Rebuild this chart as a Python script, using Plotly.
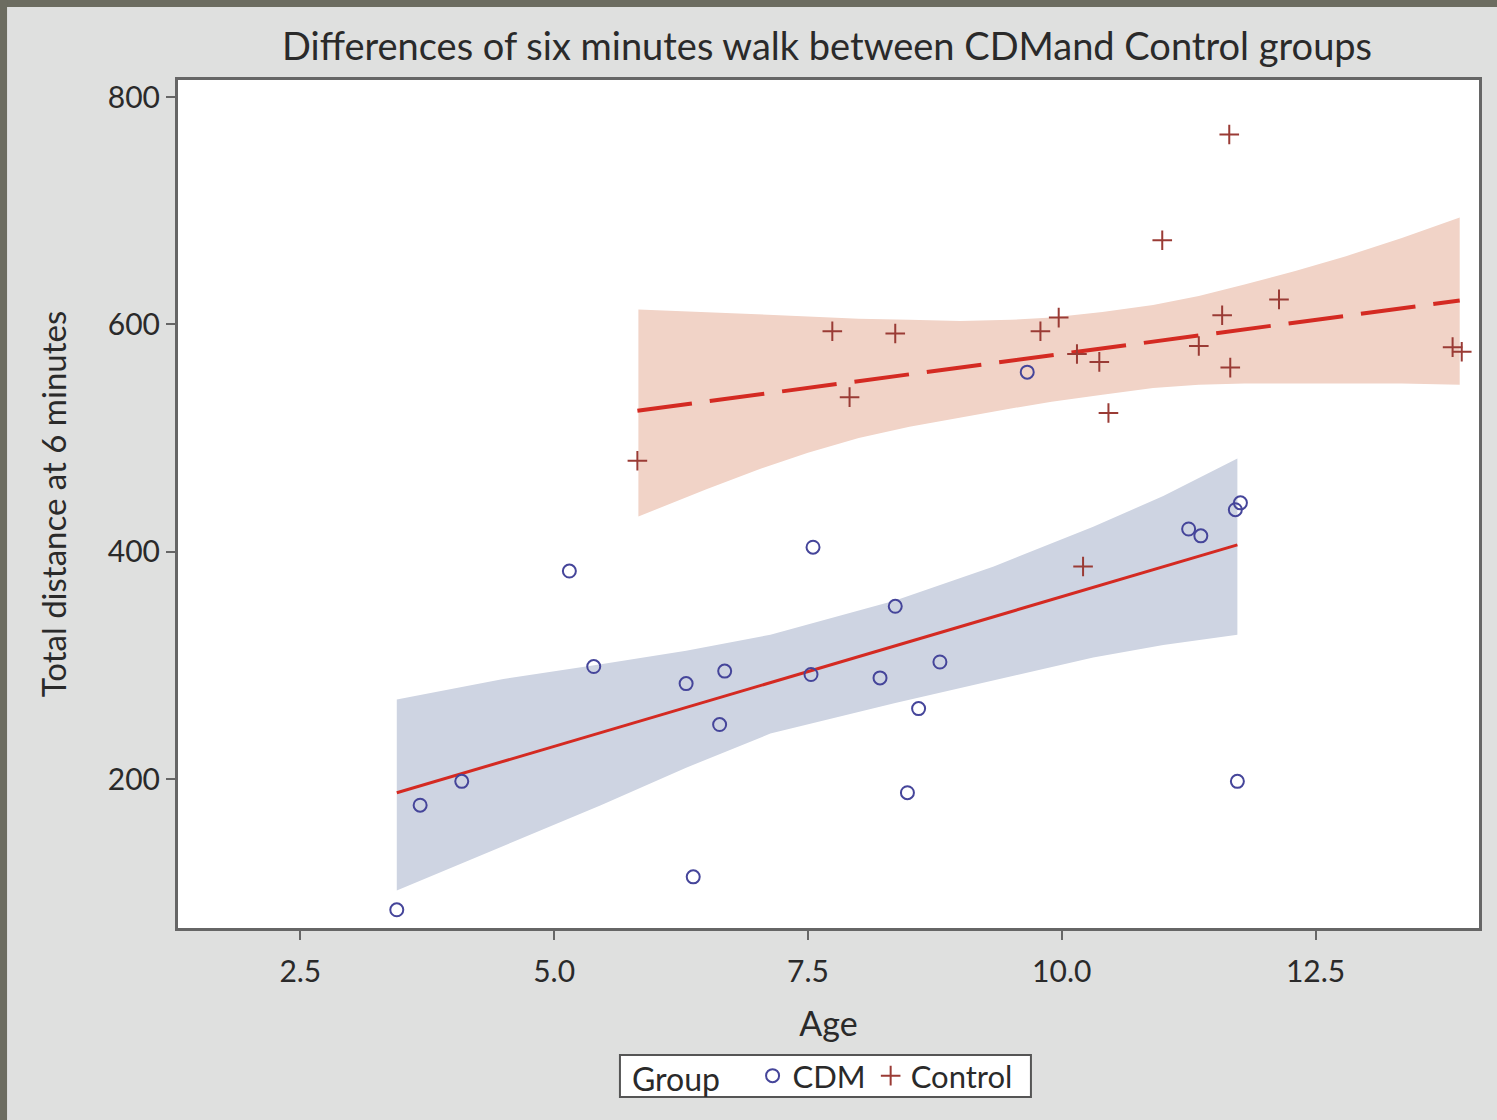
import plotly.graph_objects as go

# ---- data ----
cdm_age = [3.45, 3.68, 4.09, 5.15, 5.39, 6.30, 6.37, 6.63, 6.68, 7.55, 7.53,
           8.21, 8.36, 8.48, 8.59, 8.80, 9.66, 11.25, 11.37, 11.71, 11.76, 11.73]
cdm_dist = [85, 177, 198, 383, 299, 284, 114, 248, 295, 404, 292,
            289, 352, 188, 262, 303, 558, 420, 414, 437, 443, 198]

ctl_age = [5.82, 7.74, 7.91, 8.36, 9.79, 9.97, 10.15, 10.37, 10.46, 10.21,
           10.99, 11.35, 11.58, 11.65, 11.66, 12.14, 13.85, 13.94]
ctl_dist = [480, 594, 536, 592, 594, 606, 574, 567, 522, 387,
            674, 581, 608, 767, 562, 622, 580, 576]

cdm_fit_x = [3.45, 11.73]
cdm_fit_y = [188, 406]
ctl_fit_x = [5.82, 13.92]
ctl_fit_y = [524, 621]

cdm_band_x = [3.45, 4.5, 5.46, 6.3, 7.13, 8.36, 9.33, 10.31, 11.0, 11.73]
cdm_band_hi = [270, 288, 301, 313, 327, 357, 387, 422, 449, 482]
cdm_band_lo = [102, 141, 177, 210, 240, 267, 287, 307, 318, 327]

ctl_band_x = [5.83, 6.5, 7.0, 7.5, 8.0, 8.5, 9.0, 9.5, 9.9, 10.4, 10.9,
              11.35, 11.8, 12.3, 12.8, 13.35, 13.92]
ctl_band_hi = [613, 611, 609, 607, 605, 604, 603, 604, 606, 611, 617,
               625, 635, 647, 660, 676, 694]
ctl_band_lo = [431, 455, 472, 487, 500, 510, 518, 526, 532, 538, 544,
               547, 548, 548, 548, 548, 547]

x_ticks = [2.5, 5.0, 7.5, 10.0, 12.5]
y_ticks = [200, 400, 600, 800]

FONT = "Lato"
fig = go.Figure()

# confidence bands
fig.add_trace(go.Scatter(
    x=ctl_band_x + ctl_band_x[::-1], y=ctl_band_hi + ctl_band_lo[::-1],
    fill="toself", fillcolor="#f1d3c7", line=dict(width=0),
    mode="lines", showlegend=False, hoverinfo="skip"))
fig.add_trace(go.Scatter(
    x=cdm_band_x + cdm_band_x[::-1], y=cdm_band_hi + cdm_band_lo[::-1],
    fill="toself", fillcolor="#ced4e2", line=dict(width=0),
    mode="lines", showlegend=False, hoverinfo="skip"))

# fit lines
fig.add_trace(go.Scatter(
    x=cdm_fit_x, y=cdm_fit_y, mode="lines",
    line=dict(color="#d42a22", width=3), showlegend=False, hoverinfo="skip"))
fig.add_trace(go.Scatter(
    x=ctl_fit_x, y=ctl_fit_y, mode="lines",
    line=dict(color="#d42a22", width=4, dash="55px,18px"),
    showlegend=False, hoverinfo="skip"))

# points
fig.add_trace(go.Scatter(
    x=cdm_age, y=cdm_dist, mode="markers", name="CDM",
    marker=dict(symbol="circle-open", size=13, color="#45459a",
                line=dict(width=2, color="#45459a"))))
fig.add_trace(go.Scatter(
    x=ctl_age, y=ctl_dist, mode="markers", name="Control",
    marker=dict(symbol="cross-thin-open", size=14, color="#9a3b35",
                line=dict(width=2, color="#9a3b35"))))

# outer dark frame strips (decoration)
fig.add_shape(type="rect", xref="paper", yref="paper",
              x0=-0.2, x1=1.2, y0=1.0861, y1=1.2,
              fillcolor="#6c6c60", line=dict(width=0), layer="below")
fig.add_shape(type="rect", xref="paper", yref="paper",
              x0=-0.2, x1=-0.1314, y0=-0.3, y1=1.2,
              fillcolor="#6c6c60", line=dict(width=0), layer="below")
# legend box
fig.add_shape(type="rect", xref="paper", yref="paper",
              x0=0.3397, x1=0.6556, y0=-0.1993, y1=-0.1498,
              fillcolor="#ffffff", line=dict(width=2, color="#555555"),
              layer="above")

fig.update_layout(
    width=1497, height=1120,
    margin=dict(l=178, r=18, t=80, b=192),
    paper_bgcolor="#dfe0df",
    plot_bgcolor="#ffffff",
    font=dict(family=FONT, color="#2a2a2a", size=28),
    title=dict(text="Differences of six minutes walk between CDMand Control groups",
               x=0.5525, xanchor="center", y=0.958, yanchor="middle",
               yref="container",
               font=dict(family=FONT, size=38, color="#2a2a2a")),
    showlegend=True,
    legend=dict(orientation="h", x=0.3474, xanchor="left",
                y=-0.1745, yanchor="middle",
                bgcolor="rgba(0,0,0,0)", borderwidth=0,
                title=dict(text="Group   ", font=dict(size=32)),
                font=dict(size=31, family=FONT), itemwidth=30,
                tracegroupgap=0),
)

fig.update_xaxes(
    range=[1.295, 14.11], tickvals=x_ticks, tickformat=".1f",
    showgrid=False, zeroline=False,
    showline=True, linecolor="#666666", linewidth=3, mirror=True,
    ticks="outside", ticklen=9, tickwidth=2, tickcolor="#666666",
    ticklabelstandoff=6,
    tickfont=dict(size=30, family=FONT),
    title=dict(text="Age", font=dict(size=34, family=FONT), standoff=26))
fig.update_yaxes(
    range=[69, 815], tickvals=y_ticks,
    showgrid=False, zeroline=False,
    showline=True, linecolor="#666666", linewidth=3, mirror=True,
    ticks="outside", ticklen=9, tickwidth=2, tickcolor="#666666",
    tickfont=dict(size=30, family=FONT),
    title=dict(text="Total distance at 6 minutes", font=dict(size=33, family=FONT),
               standoff=32))

fig.write_html("out.html")
